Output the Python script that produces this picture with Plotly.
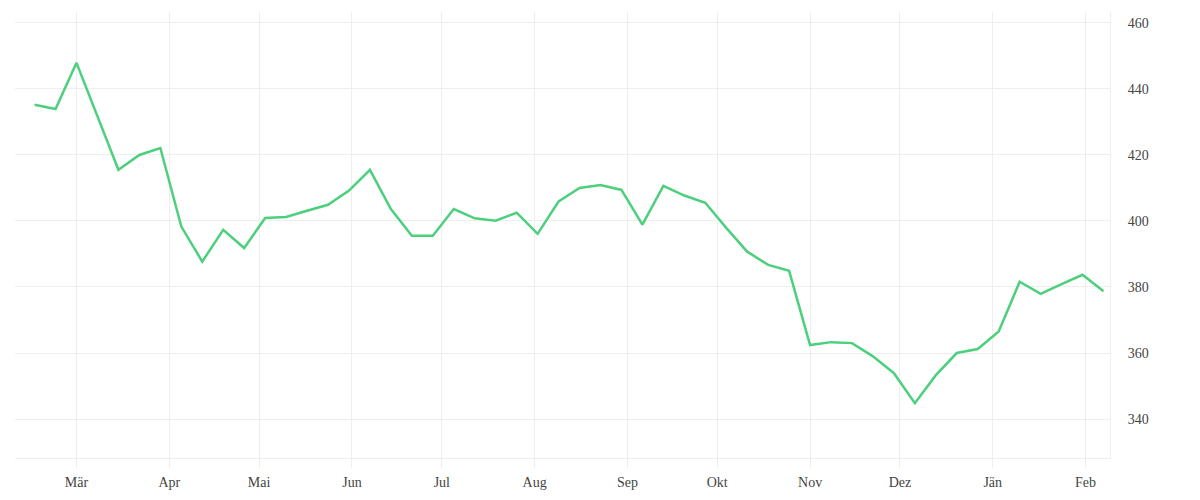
import pandas as pd
import plotly.graph_objects as go

start_date = "2022-02-15"
n_weeks = 52
values = [
    435.2, 433.9, 447.9, 431.4, 415.5, 420.0, 422.1, 398.3, 387.7, 397.3,
    391.8, 400.9, 401.2, 403.1, 404.9, 409.2, 415.5, 403.6, 395.5, 395.5,
    403.6, 400.8, 400.1, 402.5, 396.1, 405.9, 410.0, 410.9, 409.4, 398.9,
    410.6, 407.7, 405.5, 397.9, 390.7, 386.7, 384.9, 362.4, 363.3, 363.0,
    359.0, 353.9, 344.8, 353.3, 360.0, 361.2, 366.5, 381.6, 377.9, 380.9,
    383.7, 378.7,
]
dates = pd.date_range(start_date, periods=n_weeks, freq="7D")

month_ticks = pd.date_range("2022-03-01", "2023-02-01", freq="MS")
month_labels = ["Mär", "Apr", "Mai", "Jun", "Jul", "Aug", "Sep", "Okt", "Nov", "Dez", "Jän", "Feb"]
y_ticks = [340, 360, 380, 400, 420, 440, 460]

grid = "#eeeeee"
font_color = "#444444"

fig = go.Figure()
fig.add_trace(go.Scatter(
    x=dates, y=values, mode="lines",
    line=dict(color="#4cd07d", width=2.5),
    hoverinfo="x+y", showlegend=False,
))

fig.update_layout(
    width=1200, height=500,
    margin=dict(l=7, r=98, t=4, b=50),
    paper_bgcolor="white", plot_bgcolor="white",
    font=dict(family="Liberation Serif, DejaVu Serif, serif", size=14, color=font_color),
    xaxis=dict(
        range=["2022-02-08 11:00", "2023-02-09 04:00"],
        tickvals=list(month_ticks), ticktext=month_labels,
        showgrid=True, gridcolor=grid, gridwidth=1,
        showline=True, linecolor=grid, linewidth=1,
        ticks="outside", ticklen=9, tickcolor=grid,
        ticklabelstandoff=2,
        zeroline=False,
    ),
    yaxis=dict(
        side="right",
        range=[328.2, 463.3],
        tickvals=y_ticks,
        showgrid=True, gridcolor=grid, gridwidth=1,
        showline=True, linecolor=grid, linewidth=1,
        ticks="", ticklabelstandoff=14,
        zeroline=False,
    ),
)

fig.write_html("out.html")
